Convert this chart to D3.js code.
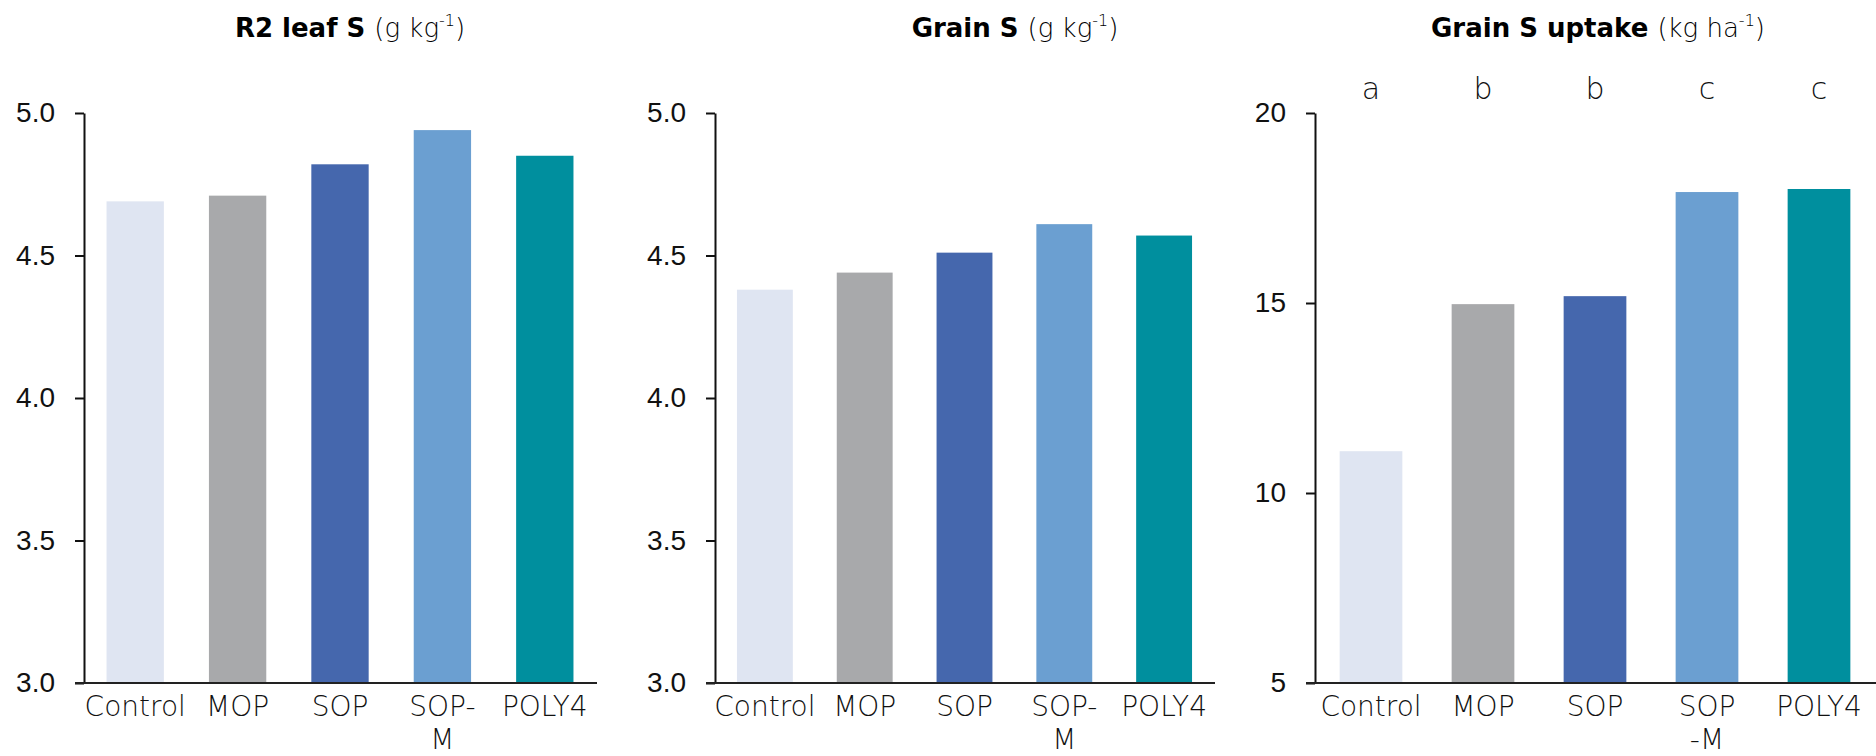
<!DOCTYPE html>
<html>
<head>
<meta charset="utf-8">
<script src="https://cdn.jsdelivr.net/npm/d3@7"></script>
<style>
  body { margin: 0; background: #fff; }
  svg { display: block; font-family: "DejaVu Sans", sans-serif; }
</style>
</head>
<body>
<svg id="chart" width="1876" height="756"></svg>
<script>
// treatments and measured values
const categories = ['Control', 'MOP', 'SOP', 'SOP-M', 'POLY4'];
const leafS = [4.69, 4.71, 4.82, 4.94, 4.85];
const grainS = [4.38, 4.44, 4.51, 4.61, 4.57];
const grainUptake = [11.1, 14.97, 15.18, 17.92, 18.0];
const uptakeLetters = ['a', 'b', 'b', 'c', 'c'];

const concTicks = [3.0, 3.5, 4.0, 4.5, 5.0];
const uptakeTicks = [5, 10, 15, 20];

const labelsSplitA = [['Control'], ['MOP'], ['SOP'], ['SOP-', 'M'], ['POLY4']];
const labelsSplitB = [['Control'], ['MOP'], ['SOP'], ['SOP', '-M'], ['POLY4']];

const barColors = ['#dfe5f2', '#a8a9ab', '#4567ad', '#6b9fd1', '#008f9e'];

const panels = [
  { bold: 'R2 leaf S', unit: 'g kg', sup: '-1', values: leafS, ticks: concTicks, fmt: d3.format('.1f'),
    labels: labelsSplitA, x0: 84, x1: 596, titleX: 350 },
  { bold: 'Grain S', unit: 'g kg', sup: '-1', values: grainS, ticks: concTicks, fmt: d3.format('.1f'),
    labels: labelsSplitA, x0: 715, x1: 1214, titleX: 1015 },
  { bold: 'Grain S uptake', unit: 'kg ha', sup: '-1', values: grainUptake, ticks: uptakeTicks, fmt: d3.format('d'),
    labels: labelsSplitB, x0: 1315, x1: 1875, titleX: 1598, letters: uptakeLetters }
];

const plotTop = 113, plotBottom = 683;
const svg = d3.select('#chart');

panels.forEach(p => {
  const x = d3.scaleBand()
              .domain(categories)
              .range([p.x0, p.x1])
              .paddingInner(0.44)
              .paddingOuter(0.22);

  const y = d3.scaleLinear()
              .domain(d3.extent(p.ticks))
              .range([plotBottom, plotTop]);

  const g = svg.append('g');

  // bars
  g.selectAll('.bar')
   .data(categories)
   .enter().append('rect')
   .attr('class', 'bar')
   .attr('x', d => x(d))
   .attr('width', x.bandwidth())
   .attr('y', (d, i) => y(p.values[i]))
   .attr('height', (d, i) => plotBottom - y(p.values[i]))
   .attr('fill', (d, i) => barColors[i]);

  // y axis
  const yAxis = g.append('g')
                 .attr('transform', `translate(${p.x0},0)`)
                 .call(d3.axisLeft(y)
                         .tickValues(p.ticks)
                         .tickSize(9)
                         .tickSizeOuter(0)
                         .tickPadding(20)
                         .tickFormat(p.fmt));
  yAxis.select('.domain').attr('stroke', '#111').attr('stroke-width', 2);
  yAxis.selectAll('.tick line').attr('stroke', '#111').attr('stroke-width', 2);
  yAxis.selectAll('.tick text')
       .attr('fill', '#111')
       .style('font-size', '28px')
       .style('font-weight', 300);

  // baseline
  g.append('line')
   .attr('x1', p.x0 - 9)
   .attr('x2', p.x1 + 1)
   .attr('y1', plotBottom)
   .attr('y2', plotBottom)
   .attr('stroke', '#222')
   .attr('stroke-width', 2);

  // category labels, some on two lines
  const lab = g.selectAll('.cat')
               .data(categories)
               .enter().append('text')
               .attr('class', 'cat')
               .attr('text-anchor', 'middle')
               .attr('fill', '#111')
               .style('font-size', '28px')
               .style('font-weight', 300);
  lab.each(function (d, i) {
    const t = d3.select(this);
    p.labels[i].forEach((line, k) => {
      t.append('tspan')
       .attr('x', x(d) + x.bandwidth() / 2)
       .attr('y', 716 + k * 33)
       .text(line);
    });
  });

  // significance letters
  if (p.letters) {
    g.selectAll('.letter')
     .data(categories)
     .enter().append('text')
     .attr('class', 'letter')
     .attr('x', d => x(d) + x.bandwidth() / 2)
     .attr('y', 99)
     .attr('text-anchor', 'middle')
     .attr('fill', '#111')
     .style('font-size', '30px')
     .style('font-weight', 300)
     .text((d, i) => p.letters[i]);
  }

  // title
  const title = g.append('text')
                 .attr('x', p.titleX)
                 .attr('y', 37)
                 .attr('text-anchor', 'middle')
                 .attr('fill', '#000')
                 .style('font-size', '26px');
  title.append('tspan').style('font-weight', 'bold').text(p.bold + ' ');
  title.append('tspan').style('font-weight', 300).text('(' + p.unit);
  title.append('tspan').style('font-weight', 300).style('font-size', '16px')
       .attr('dy', -11).text(p.sup);
  title.append('tspan').style('font-weight', 300).attr('dy', 11).text(')');
});
</script>
</body>
</html>
